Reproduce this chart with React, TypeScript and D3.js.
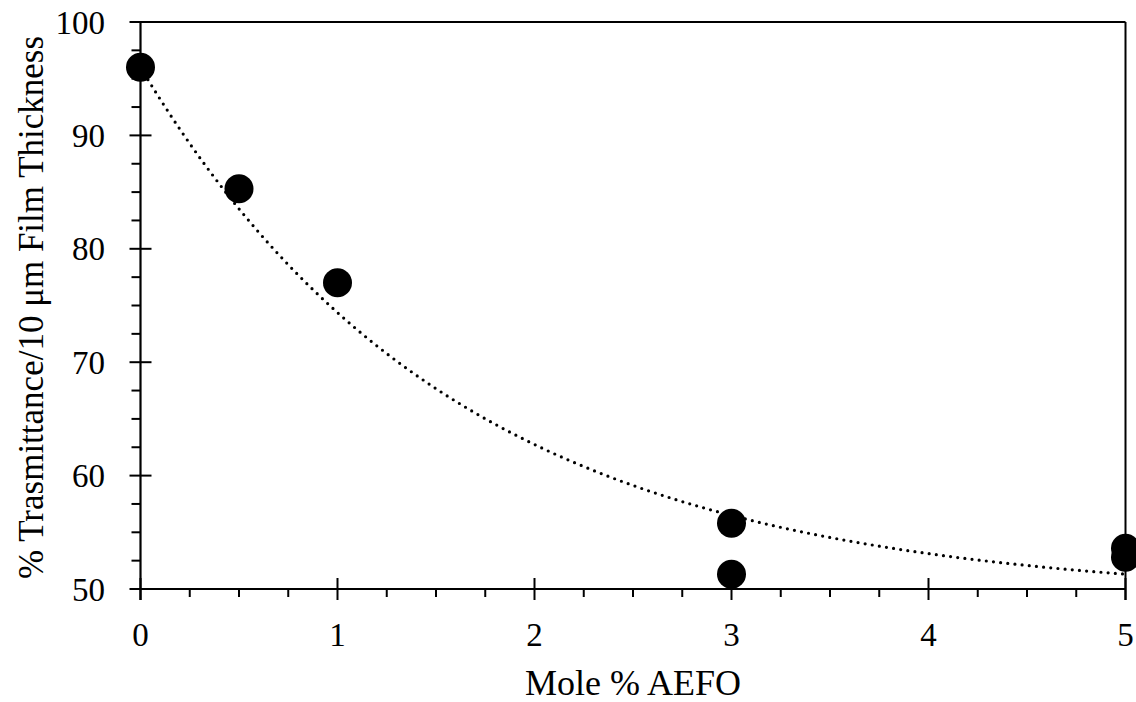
import React from "react";
import * as d3 from "d3";

const xValues = [0, 0.5, 1, 3, 3, 5, 5];
const yValues = [96, 85.3, 77, 55.8, 51.3, 53.6, 52.8];
const xTicks = [0, 1, 2, 3, 4, 5];
const yTicks = [50, 60, 70, 80, 90, 100];
// exponential decay trend: y = fitA + fitB * exp(-fitC * x)
const fitA = 49.2;
const fitB = 46.8;
const fitC = 0.62;

const W = 1136;
const H = 702;
const L = 140.5;
const R = 1125.5;
const T = 22;
const B = 589;

export default function App() {
  const x = d3.scaleLinear().domain([0, 5]).range([L, R]);
  const y = d3.scaleLinear().domain([50, 100]).range([B, T]);
  const font = "Liberation Serif, Times New Roman, serif";

  const curveX = d3.range(0, 5.0001, 0.02);
  const line = d3
    .line<number>()
    .x((d) => x(d))
    .y((d) => y(fitA + fitB * Math.exp(-fitC * d)))
    .curve(d3.curveLinear);

  const xMinor = d3.range(0, 5.0001, 0.25).filter((v) => Math.abs(v - Math.round(v)) > 1e-6);
  const yMinor = d3.range(50, 100.0001, 2.5).filter((v) => Math.abs(v / 10 - Math.round(v / 10)) > 1e-6);

  return (
    <svg
      width={W}
      height={H}
      style={{ position: "absolute", left: 0, top: 0, background: "#fff" }}
    >
      <rect x={0} y={0} width={W} height={H} fill="#fff" />
      {/* trend curve */}
      <path
        d={line(curveX) || ""}
        fill="none"
        stroke="#000"
        strokeWidth={3.2}
        strokeLinecap="round"
        strokeDasharray="0 7.2"
      />
      {/* frame top & right */}
      <line x1={130} x2={R} y1={T} y2={T} stroke="#000" strokeWidth={2} />
      <line x1={R} x2={R} y1={T} y2={B + 11} stroke="#000" strokeWidth={2} />
      {/* axes */}
      <line x1={L} x2={L} y1={T} y2={B + 11} stroke="#000" strokeWidth={2.2} />
      <line x1={130} x2={R} y1={B} y2={B} stroke="#000" strokeWidth={2.2} />
      {/* x ticks */}
      {xTicks.map((t) => (
        <g key={"xt" + t}>
          <line x1={x(t)} x2={x(t)} y1={B - 11} y2={B + 11} stroke="#000" strokeWidth={2} />
          <text
            x={x(t)}
            y={646}
            textAnchor="middle"
            fontFamily={font}
            fontSize={33}
            fill="#000"
          >
            {t}
          </text>
        </g>
      ))}
      {xMinor.map((t) => (
        <line key={"xm" + t} x1={x(t)} x2={x(t)} y1={B} y2={B + 8} stroke="#000" strokeWidth={2} />
      ))}
      {/* y ticks */}
      {yTicks.map((t) => (
        <g key={"yt" + t}>
          <line x1={L - 11} x2={L + 11} y1={y(t)} y2={y(t)} stroke="#000" strokeWidth={2} />
          <text
            x={105}
            y={y(t)}
            dy="0.35em"
            textAnchor="end"
            fontFamily={font}
            fontSize={33}
            fill="#000"
          >
            {t}
          </text>
        </g>
      ))}
      {yMinor.map((t) => (
        <line key={"ym" + t} x1={L - 9} x2={L} y1={y(t)} y2={y(t)} stroke="#000" strokeWidth={2} />
      ))}
      {/* points */}
      {xValues.map((v, i) => (
        <circle key={"p" + i} cx={x(v)} cy={y(yValues[i])} r={14.5} fill="#000" />
      ))}
      {/* axis titles */}
      <text
        x={633}
        y={695}
        textAnchor="middle"
        fontFamily={font}
        fontSize={36}
        fill="#000"
      >
        Mole % AEFO
      </text>
      <text
        transform={`translate(43, ${(T + B) / 2 + 2}) rotate(-90)`}
        textAnchor="middle"
        fontFamily={font}
        fontSize={35}
        fill="#000"
      >
        % Trasmittance/10 μm Film Thickness
      </text>
    </svg>
  );
}
